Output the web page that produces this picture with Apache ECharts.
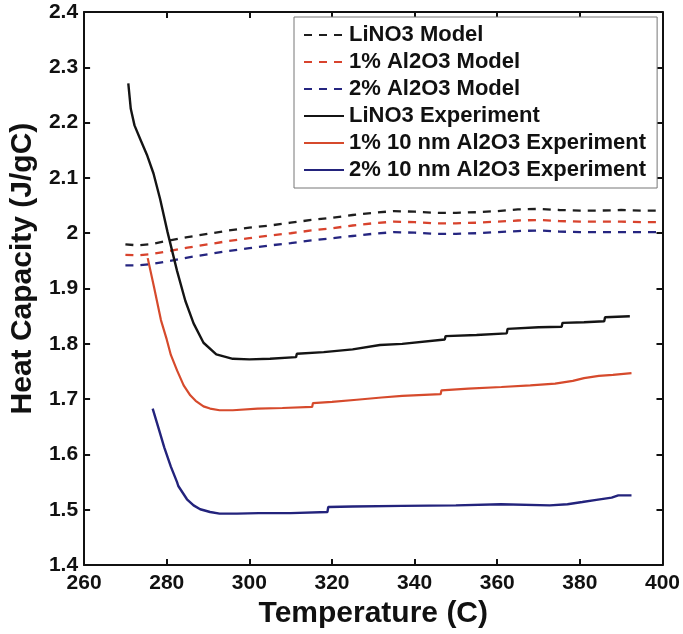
<!DOCTYPE html>
<html>
<head>
<meta charset="utf-8">
<script src="https://cdn.jsdelivr.net/npm/echarts@6/dist/echarts.min.js"></script>
<style>
html,body{margin:0;padding:0;background:#fff;}
#chart{width:683px;height:634px;}
</style>
</head>
<body>
<div id="chart"></div>
<script>
// ---- Data ----
const seriesNames = [
  'LiNO3 Model',
  '1% Al2O3 Model',
  '2% Al2O3 Model',
  'LiNO3 Experiment',
  '1% 10 nm Al2O3 Experiment',
  '2% 10 nm Al2O3 Experiment'
];
const xTicks = [260, 280, 300, 320, 340, 360, 380, 400];
const yTicks = [1.4, 1.5, 1.6, 1.7, 1.8, 1.9, 2.0, 2.1, 2.2, 2.3, 2.4];

const modelT = [270, 273, 276, 280, 285, 290, 295, 300, 305, 310, 315, 320, 325, 330, 335, 340, 345, 350, 355, 360, 365, 370, 375, 380, 385, 390, 395, 400];
const liModel = [1.980, 1.978, 1.980, 1.986, 1.993, 1.999, 2.005, 2.010, 2.014, 2.019, 2.024, 2.028, 2.033, 2.037, 2.040, 2.039, 2.037, 2.037, 2.038, 2.040, 2.043, 2.044, 2.042, 2.041, 2.041, 2.042, 2.041, 2.041];
const al1Model = [1.961, 1.960, 1.962, 1.967, 1.974, 1.980, 1.986, 1.991, 1.996, 2.000, 2.005, 2.009, 2.014, 2.018, 2.021, 2.020, 2.018, 2.018, 2.019, 2.021, 2.023, 2.024, 2.022, 2.021, 2.021, 2.021, 2.020, 2.020];
const al2Model = [1.942, 1.942, 1.944, 1.949, 1.956, 1.962, 1.968, 1.973, 1.978, 1.982, 1.987, 1.991, 1.995, 1.999, 2.002, 2.001, 1.999, 1.999, 2.000, 2.002, 2.004, 2.005, 2.003, 2.002, 2.002, 2.002, 2.002, 2.002];

const liExpT = [270.7, 271.3, 272.2, 273.6, 275.2, 276.8, 278.4, 280.2, 282.5, 284.5, 286.5, 288.9, 292, 296, 300, 305, 311.3, 311.5, 318, 325, 331.6, 337, 347.3, 347.5, 355, 362.3, 362.5, 370, 375.6, 375.8, 381, 385.9, 386.1, 392.1];
const liExp = [2.271, 2.225, 2.195, 2.170, 2.142, 2.108, 2.062, 2.002, 1.932, 1.878, 1.837, 1.802, 1.781, 1.773, 1.772, 1.773, 1.776, 1.782, 1.785, 1.790, 1.798, 1.800, 1.808, 1.814, 1.816, 1.819, 1.827, 1.830, 1.831, 1.838, 1.839, 1.841, 1.848, 1.850];

const al1ExpT = [275.4, 277, 278.6, 280, 281, 282.5, 284.1, 285.7, 287, 288.9, 290.5, 292.8, 296, 302, 308, 315.2, 315.4, 320, 326, 332, 337, 346.3, 346.5, 353, 361, 368, 374, 378.3, 381, 384.6, 388, 392.5];
const al1Exp = [1.955, 1.900, 1.843, 1.808, 1.780, 1.752, 1.725, 1.707, 1.697, 1.687, 1.683, 1.680, 1.680, 1.683, 1.684, 1.686, 1.693, 1.695, 1.699, 1.703, 1.706, 1.709, 1.716, 1.719, 1.722, 1.725, 1.728, 1.733, 1.738, 1.742, 1.744, 1.747];

const al2ExpT = [276.6, 278, 279.4, 281, 282.5, 282.8, 284.9, 286.5, 288.1, 290.5, 292.8, 297, 302.3, 310, 318.9, 319.1, 325, 337, 350, 360.9, 372.7, 377, 380.6, 384, 387.7, 389.3, 392.5];
const al2Exp = [1.683, 1.648, 1.613, 1.578, 1.550, 1.543, 1.519, 1.508, 1.501, 1.496, 1.493, 1.493, 1.494, 1.494, 1.496, 1.505, 1.506, 1.507, 1.508, 1.510, 1.508, 1.510, 1.514, 1.518, 1.522, 1.526, 1.526];

// ---- Build ----
const zip = (xs, ys) => xs.map((x, i) => [x, ys[i]]);
const FONT = 'Liberation Sans';
const colors = {
  liM: '#1e1e1e', al1M: '#d8432d', al2M: '#252580',
  liE: '#141414', al1E: '#d64a2c', al2E: '#23237c'
};

function lineSeries(name, data, color, dashed, width) {
  return {
    name: name, type: 'line', data: data, showSymbol: false, symbol: 'none',
    smooth: false, animation: false,
    lineStyle: { color: color, width: width, type: dashed ? [8, 7] : 'solid' },
    itemStyle: { color: color },
    z: dashed ? 3 : 4
  };
}

const baseX = { min: xTicks[0], max: xTicks[xTicks.length - 1], interval: 20 };
const baseY = { min: yTicks[0], max: yTicks[yTicks.length - 1], interval: 0.1 };
const axisLineStyle = { show: true, onZero: false, lineStyle: { color: '#111', width: 2 } };
const tickStyle = { show: true, inside: true, length: 6, lineStyle: { color: '#111', width: 2 } };

const chart = echarts.init(document.getElementById('chart'), null, { renderer: 'canvas' });
chart.setOption({
  animation: false,
  backgroundColor: '#fff',
  grid: { left: 75, right: 18, top: 12, bottom: 57, containLabel: false },
  legend: {
    orient: 'vertical', left: 294, top: 17,
    padding: [7, 11, 7, 9],
    itemWidth: 40, itemHeight: 14, itemGap: 5,
    backgroundColor: '#fff', borderColor: '#777', borderWidth: 1,
    itemStyle: { color: 'rgba(0,0,0,0)', borderWidth: 0, opacity: 0 },
    data: seriesNames,
    textStyle: { fontFamily: FONT, fontWeight: 'bold', fontSize: 22, color: '#111', lineHeight: 20 }
  },
  xAxis: [
    Object.assign({
      type: 'value', position: 'bottom',
      name: 'Temperature (C)', nameLocation: 'middle', nameGap: 30,
      nameTextStyle: { fontFamily: FONT, fontWeight: 'bold', fontSize: 30, color: '#111' },
      axisLine: axisLineStyle, axisTick: tickStyle,
      axisLabel: { fontFamily: FONT, fontWeight: 'bold', fontSize: 21, color: '#111', margin: 8 },
      splitLine: { show: false }
    }, baseX),
    Object.assign({
      type: 'value', position: 'top',
      axisLine: axisLineStyle, axisTick: tickStyle,
      axisLabel: { show: false }, splitLine: { show: false }
    }, baseX)
  ],
  yAxis: [
    Object.assign({
      type: 'value', position: 'left',
      name: 'Heat Capacity (J/gC)', nameLocation: 'middle', nameGap: 42,
      nameTextStyle: { fontFamily: FONT, fontWeight: 'bold', fontSize: 30, color: '#111', padding: [0, 0, 0, 40] },
      axisLine: axisLineStyle, axisTick: tickStyle,
      axisLabel: { fontFamily: FONT, fontWeight: 'bold', fontSize: 21, color: '#111', margin: 6 },
      splitLine: { show: false }
    }, baseY),
    Object.assign({
      type: 'value', position: 'right',
      axisLine: axisLineStyle, axisTick: tickStyle,
      axisLabel: { show: false }, splitLine: { show: false }
    }, baseY)
  ],
  series: [
    lineSeries(seriesNames[0], zip(modelT, liModel), colors.liM, true, 2.3),
    lineSeries(seriesNames[1], zip(modelT, al1Model), colors.al1M, true, 2.3),
    lineSeries(seriesNames[2], zip(modelT, al2Model), colors.al2M, true, 2.3),
    lineSeries(seriesNames[3], zip(liExpT, liExp), colors.liE, false, 2.4),
    lineSeries(seriesNames[4], zip(al1ExpT, al1Exp), colors.al1E, false, 2.2),
    lineSeries(seriesNames[5], zip(al2ExpT, al2Exp), colors.al2E, false, 2.4)
  ]
});
</script>
</body>
</html>
